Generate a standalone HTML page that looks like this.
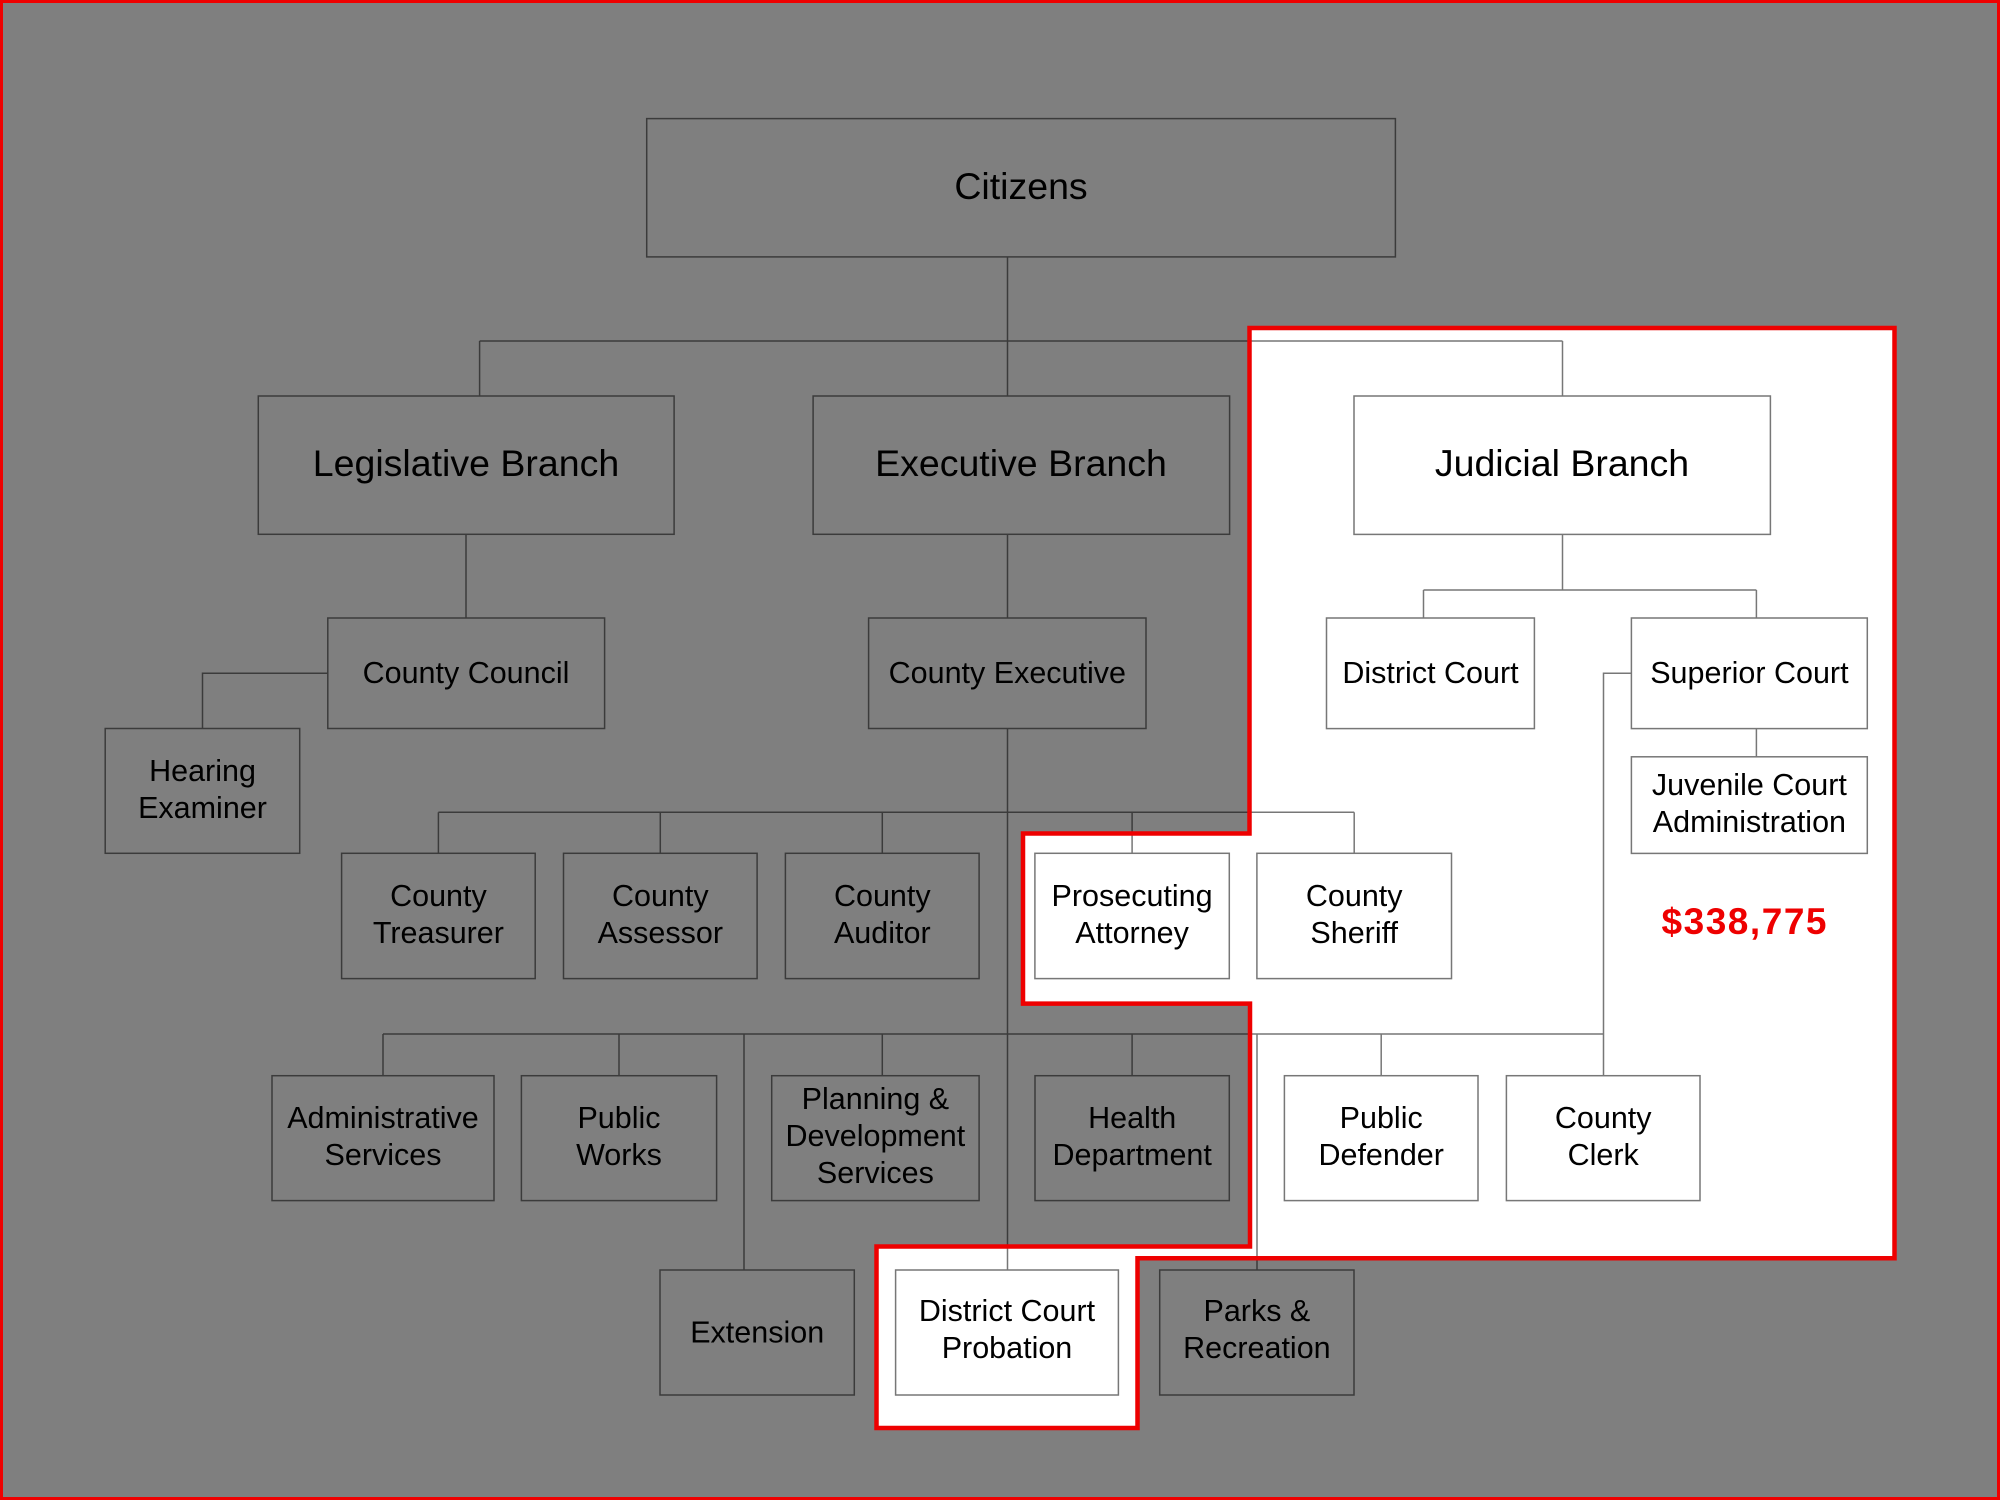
<!DOCTYPE html>
<html>
<head>
<meta charset="utf-8">
<style>
html,body{margin:0;padding:0;background:#fff;}
svg{display:block;}
text{font-family:"Liberation Sans",Arial,sans-serif;fill:#000;}
</style>
</head>
<body>
<svg width="2000" height="1500" viewBox="0 0 2000 1500" xmlns="http://www.w3.org/2000/svg">
<rect x="0" y="0" width="2000" height="1500" fill="#ffffff"/>

<g stroke="#777777" stroke-width="1.5" fill="none">
  <!-- top tree -->
  <line x1="1007.5" y1="257" x2="1007.5" y2="396"/>
  <line x1="479.6" y1="341" x2="1562.5" y2="341"/>
  <line x1="479.6" y1="341" x2="479.6" y2="396"/>
  <line x1="1562.5" y1="341" x2="1562.5" y2="396"/>
  <!-- legislative -->
  <line x1="466" y1="534" x2="466" y2="618"/>
  <polyline points="328,673.3 202.5,673.3 202.5,728.5"/>
  <!-- executive -->
  <line x1="1007.5" y1="534" x2="1007.5" y2="618"/>
  <line x1="1007.5" y1="728.5" x2="1007.5" y2="1270"/>
  <line x1="438.4" y1="812.3" x2="1354.2" y2="812.3"/>
  <line x1="438.4" y1="812.3" x2="438.4" y2="853.3"/>
  <line x1="660.3" y1="812.3" x2="660.3" y2="853.3"/>
  <line x1="882.3" y1="812.3" x2="882.3" y2="853.3"/>
  <line x1="1132.1" y1="812.3" x2="1132.1" y2="853.3"/>
  <line x1="1354.2" y1="812.3" x2="1354.2" y2="853.3"/>
  <line x1="383" y1="1034" x2="1603.5" y2="1034"/>
  <line x1="383" y1="1034" x2="383" y2="1075.7"/>
  <line x1="619" y1="1034" x2="619" y2="1075.7"/>
  <line x1="882.3" y1="1034" x2="882.3" y2="1075.7"/>
  <line x1="1132.1" y1="1034" x2="1132.1" y2="1075.7"/>
  <line x1="1381.2" y1="1034" x2="1381.2" y2="1075.7"/>
  <line x1="744" y1="1034" x2="744" y2="1270"/>
  <line x1="1257" y1="1034" x2="1257" y2="1270"/>
  <!-- judicial -->
  <line x1="1562.5" y1="534.4" x2="1562.5" y2="590"/>
  <line x1="1423.5" y1="590" x2="1756.4" y2="590"/>
  <line x1="1423.5" y1="590" x2="1423.5" y2="618"/>
  <line x1="1756.4" y1="590" x2="1756.4" y2="618"/>
  <line x1="1756.4" y1="728.6" x2="1756.4" y2="756.8"/>
  <polyline points="1631.4,673.3 1603.5,673.3 1603.5,1075.7"/>

  <!-- boxes -->
  <rect x="646.7" y="118.6" width="748.7" height="138.3"/>
  <rect x="258.3" y="396" width="415.8" height="138.3"/>
  <rect x="813.1" y="396" width="416.5" height="138.3"/>
  <rect x="1354" y="396" width="416.4" height="138.4"/>
  <rect x="327.8" y="618" width="276.8" height="110.5"/>
  <rect x="868.6" y="618" width="277.4" height="110.5"/>
  <rect x="1326.5" y="618" width="207.9" height="110.6"/>
  <rect x="1631.4" y="618" width="235.9" height="110.6"/>
  <rect x="1631.4" y="756.8" width="235.9" height="96.6"/>
  <rect x="105.2" y="728.5" width="194.5" height="124.8"/>
  <rect x="341.6" y="853.3" width="193.6" height="125.3"/>
  <rect x="563.5" y="853.3" width="193.6" height="125.3"/>
  <rect x="785.4" y="853.3" width="193.7" height="125.3"/>
  <rect x="1034.9" y="853.3" width="194.4" height="125.3"/>
  <rect x="1256.9" y="853.3" width="194.6" height="125.3"/>
  <rect x="272" y="1075.7" width="222" height="124.9"/>
  <rect x="521.4" y="1075.7" width="195.2" height="124.9"/>
  <rect x="771.7" y="1075.7" width="207.4" height="124.9"/>
  <rect x="1035" y="1075.7" width="194.3" height="124.9"/>
  <rect x="1284.4" y="1075.7" width="193.6" height="124.9"/>
  <rect x="1506.4" y="1075.7" width="193.6" height="124.9"/>
  <rect x="660" y="1270" width="194.3" height="125"/>
  <rect x="895.6" y="1270" width="222.8" height="125"/>
  <rect x="1159.7" y="1270" width="194.3" height="125"/>
</g>

<g text-anchor="middle" font-size="37.5" transform="translate(0,-1.3)">
  <text x="1021" y="200.5">Citizens</text>
  <text x="466" y="477.5">Legislative Branch</text>
  <text x="1021" y="477.5">Executive Branch</text>
  <text x="1562" y="477.5">Judicial Branch</text>
</g>

<g text-anchor="middle" font-size="30.5" transform="translate(0,-1)">
  <text x="466" y="684.2">County Council</text>
  <text x="1007.3" y="684.2">County Executive</text>
  <text x="1430.5" y="684.2">District Court</text>
  <text x="1749.4" y="684.2">Superior Court</text>
  <text x="1749.4" y="796">Juvenile Court</text>
  <text x="1749.4" y="833">Administration</text>
  <text x="202.5" y="781.8">Hearing</text>
  <text x="202.5" y="818.8">Examiner</text>

  <text x="438.4" y="906.9">County</text>
  <text x="438.4" y="943.9">Treasurer</text>
  <text x="660.3" y="906.9">County</text>
  <text x="660.3" y="943.9">Assessor</text>
  <text x="882.3" y="906.9">County</text>
  <text x="882.3" y="943.9">Auditor</text>
  <text x="1132.1" y="906.9">Prosecuting</text>
  <text x="1132.1" y="943.9">Attorney</text>
  <text x="1354.2" y="906.9">County</text>
  <text x="1354.2" y="943.9">Sheriff</text>

  <text x="383" y="1129">Administrative</text>
  <text x="383" y="1166">Services</text>
  <text x="619" y="1129">Public</text>
  <text x="619" y="1166">Works</text>
  <text x="875.4" y="1110">Planning &amp;</text>
  <text x="875.4" y="1147">Development</text>
  <text x="875.4" y="1184">Services</text>
  <text x="1132.2" y="1129">Health</text>
  <text x="1132.2" y="1166">Department</text>
  <text x="1381.2" y="1129">Public</text>
  <text x="1381.2" y="1166">Defender</text>
  <text x="1603.2" y="1129">County</text>
  <text x="1603.2" y="1166">Clerk</text>

  <text x="757.2" y="1343.4">Extension</text>
  <text x="1007" y="1322">District Court</text>
  <text x="1007" y="1359">Probation</text>
  <text x="1256.9" y="1322">Parks &amp;</text>
  <text x="1256.9" y="1359">Recreation</text>
</g>

<!-- gray overlay outside highlighted region -->
<path fill="#000000" fill-opacity="0.5" fill-rule="evenodd"
  d="M0 0H2000V1500H0Z M1249.5 328 H1894.5 V1258.3 H1137.5 V1428 H876.5 V1246.5 H1250 V1003.6 H1023 V833.5 H1249.5 Z"/>

<!-- red highlight outline -->
<path fill="none" stroke="#ee0000" stroke-width="4.5" stroke-linejoin="miter"
  d="M1249.5 328 H1894.5 V1258.3 H1137.5 V1428 H876.5 V1246.5 H1250 V1003.6 H1023 V833.5 H1249.5 Z"/>

<text x="1744" y="934" text-anchor="middle" font-size="37" font-weight="bold" style="fill:#ee0000" textLength="165" lengthAdjust="spacing">$338,775</text>

<!-- page border -->
<rect x="1.5" y="1.5" width="1997" height="1497" fill="none" stroke="#ee0000" stroke-width="3"/>
</svg>
</body>
</html>
